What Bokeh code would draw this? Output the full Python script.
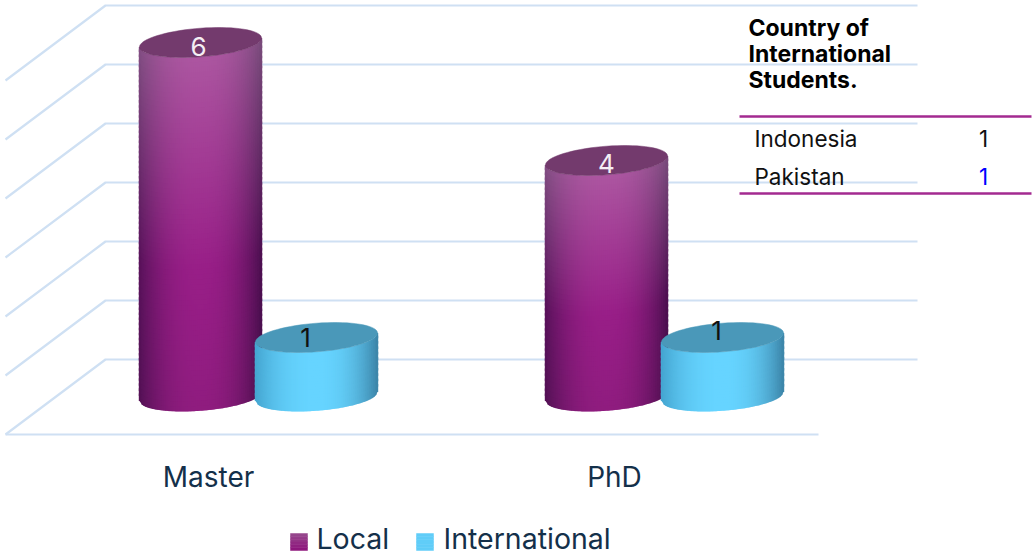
import math
from bokeh.plotting import figure
from bokeh.models import Range1d, ColumnDataSource
from bokeh.core.properties import value
from bokeh.embed import file_html
from bokeh.resources import INLINE

categories = ["Master", "PhD"]
local_values = [6, 4]
international_values = [1, 1]
series_names = ["Local", "International"]
grid_ticks = [0, 1, 2, 3, 4, 5, 6]
table_title = ["Country of", "International", "Students."]
table_countries = ["Indonesia", "Pakistan"]
table_counts = [1, 1]

W, H = 1032, 555
FONT = "Inter"
PX_X = 406.0    # pixels per category
PX_Y = 59.0     # pixels per unit
X0 = 258.0      # pixel of category 0
Y0 = 396.0      # pixel of value 0


def dx(px):
    return (px - X0) / PX_X


def dy(py):
    return (Y0 - py) / PX_Y


p = figure(width=W, height=H, output_backend="svg", toolbar_location=None,
           x_range=Range1d(dx(0), dx(W)), y_range=Range1d(dy(H), dy(0)),
           min_border=0, outline_line_color=None, background_fill_color="white")
p.axis.visible = False
p.grid.visible = False
p.styles = {"position": "absolute", "left": "0px", "top": "0px"}

# --- walls and floor
GRID = "#CFE0F3"
back_shift = (Y0 - 359) / PX_Y
diag_drop = 75 / PX_Y
xs, ys = [], []
for t in grid_ticks:
    y = t + back_shift
    xs.append([dx(5), dx(105), dx(917)])
    ys.append([y - diag_drop, y, y])
xs.append([dx(5), dx(818)])
ys.append([back_shift - diag_drop] * 2)
p.multi_line(xs, ys, line_color=GRID, line_width=2.2)

# --- cylinders
OFFSET = 58 / PX_X
A = 61 / PX_X
B = 14.3 / PX_Y
TILT = 4.5 / PX_Y


def mix(c1, c2, t):
    t = max(0.0, min(1.0, t))
    return tuple(c1[i] + (c2[i] - c1[i]) * t for i in range(3))


def hexc(c):
    return "#%02x%02x%02x" % tuple(int(round(v)) for v in c)


def cylinder(cx, val, centre, edge_l, edge_r, lift, cap, nu=61, row_px=5):
    rows = max(4, int(val * PX_Y / row_px))
    px, py, col = [], [], []
    ex0, ex1, ey0, ey1, ec = [], [], [], [], []
    for i in range(nu):
        u0 = -1 + 2 * i / nu
        u1 = -1 + 2 * (i + 1) / nu
        um = (u0 + u1) / 2
        ue = min(1.0, u1 + 1.0 / nu) if i < nu - 1 else 1.0  # overlap hides seams
        off0 = -B * math.sqrt(max(0, 1 - u0 * u0)) + TILT * u0
        off1 = -B * math.sqrt(max(0, 1 - ue * ue)) + TILT * ue
        e = abs(um) ** 2.3
        base = mix(centre, edge_r if um > 0 else edge_l, e)
        for r in range(rows):
            f0, f1 = r / rows, min(1.0, (r + 1.5) / rows)
            fm = (r + 0.5) / rows
            lighten = lift * max(0.0, (fm - 0.4) / 0.6)
            darken = 0.06 * max(0.0, (0.4 - fm) / 0.4) if lift > 0.05 else 0
            c = mix(base, (215, 205, 215), lighten)
            c = mix(c, (0, 0, 0), darken)
            colour = hexc(c)
            px.append([cx + A * u0, cx + A * ue, cx + A * ue, cx + A * u0])
            py.append([off0 + val * f0, off1 + val * f0, off1 + val * f1, off0 + val * f1])
            col.append(colour)
            if i == 0 or i == nu - 1:
                edge_u = -1.0 if i == 0 else 1.0
                ex0.append(cx + A * edge_u)
                ex1.append(cx + A * edge_u)
                ey0.append(TILT * edge_u + val * f0)
                ey1.append(TILT * edge_u + val * f1)
                ec.append(colour)
    src = ColumnDataSource(dict(x=px, y=py, c=col))
    p.patches("x", "y", source=src, fill_color="c", line_color=None)
    # side edges: a clean silhouette over the strips' ends
    p.segment(ex0, ey0, ex1, ey1, line_color=ec, line_width=1.4)
    # top cap
    n = 72
    tx, ty = [], []
    for k in range(n):
        t = 2 * math.pi * k / n
        tx.append(cx + A * math.cos(t))
        ty.append(val + B * math.sin(t) + TILT * math.cos(t))
    p.patch(tx, ty, fill_color=cap, line_color=cap, line_width=0.5)


LOCAL_C = ((152, 30, 135), (88, 18, 90), (76, 15, 80), 0.32, "#733A6D")
INTL_C = ((102, 212, 255), (68, 165, 208), (60, 132, 168), 0.0, "#4A98B9")

for i in range(len(categories)):
    cylinder(i - OFFSET, local_values[i], *LOCAL_C)
    cylinder(i + OFFSET, international_values[i], *INTL_C)

# --- value labels
lab_x, lab_y, lab_t, lab_c = [], [], [], []
nudges = {(0, 0): (-2, 4), (0, 1): (-11, 0), (1, 0): (0, 3), (1, 1): (-6, -7)}
for i in range(len(categories)):
    for s, (vals, colr) in enumerate(((local_values, "#F4EEF4"), (international_values, "#111111"))):
        nx, ny = nudges[(i, s)]
        lab_x.append(i + (-OFFSET if s == 0 else OFFSET) + nx / PX_X)
        lab_y.append(vals[i] - ny / PX_Y)
        lab_t.append(str(vals[i]))
        lab_c.append(colr)
p.text(lab_x, lab_y, text=lab_t, text_color=lab_c, text_font=value(FONT),
       text_font_size="26px", text_align="center", text_baseline="middle")

# --- category labels
p.text([dx(208), dx(614)], [dy(476)] * 2, text=categories, text_color="#14304A",
       text_font=value(FONT), text_font_size="28px", text_align="center", text_baseline="middle")

# --- legend
for name, sx, tx_, top, bot in ((series_names[0], 290, 316, (150, 70, 140), (142, 24, 125)),
                                (series_names[1], 416, 443, (96, 205, 248), (96, 205, 248))):
    n = 6
    for k in range(n):
        y0 = 533 + 17 * k / n
        y1 = 533 + 17 * (k + 1) / n
        c = hexc(mix(top, bot, k / (n - 1)))
        p.quad(left=dx(sx), right=dx(sx + 17), top=dy(y0), bottom=dy(y1), fill_color=c, line_color=c, line_width=0.5)
    p.text([dx(tx_)], [dy(538)], text=[name], text_color="#14304A", text_font=value(FONT),
           text_font_size="28.5px", text_align="left", text_baseline="middle")

# --- table
for ty_ in (116, 193):
    p.line([dx(739), dx(1031)], [dy(ty_)] * 2, line_color="#A32A90", line_width=2.5)
p.text([dx(748)] * 3, [dy(27), dy(53), dy(79)], text=table_title, text_color="black",
       text_font=value(FONT), text_font_size="23px", text_font_style="bold",
       text_align="left", text_baseline="middle")
p.text([dx(754)] * 2, [dy(138), dy(176)], text=table_countries, text_color="#111111",
       text_font=value(FONT), text_font_size="22.5px", text_align="left", text_baseline="middle")
p.text([dx(983)] * 2, [dy(138), dy(176)], text=[str(v) for v in table_counts], text_color=["#111111", "#0000FF"],
       text_font=value(FONT), text_font_size="22.5px", text_align="center", text_baseline="middle")

open("out.html", "w").write(file_html(p, INLINE))
